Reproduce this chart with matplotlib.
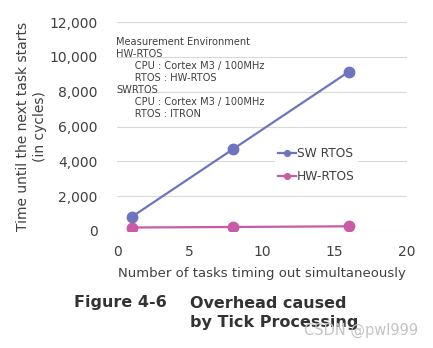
import matplotlib.pyplot as plt

# data
tasks = [1, 8, 16]
sw_rtos = [800, 4700, 9150]
hw_rtos = [200, 230, 270]
yticks = [0, 2000, 4000, 6000, 8000, 10000, 12000]
xticks = [0, 5, 10, 15, 20]

env_text = ("Measurement Environment\n"
            "HW-RTOS\n"
            "      CPU : Cortex M3 / 100MHz\n"
            "      RTOS : HW-RTOS\n"
            "SWRTOS\n"
            "      CPU : Cortex M3 / 100MHz\n"
            "      RTOS : ITRON")

plt.rcParams['font.family'] = ['DejaVu Sans']
txt = '#404040'

fig = plt.figure(figsize=(4.33, 3.48), dpi=100)
ax = fig.add_axes([117/433, 1 - 231/348, 290/433, 209/348])

ax.plot(tasks, sw_rtos, color='#6f74bf', lw=1.6, marker='o', ms=7.5, label='SW RTOS', zorder=3)
ax.plot(tasks, hw_rtos, color='#c95ba6', lw=1.6, marker='o', ms=7.5, label='HW-RTOS', zorder=3)

ax.set_xlim(0, 20)
ax.set_ylim(0, 12000)
ax.set_xticks(xticks)
ax.set_yticks(yticks)
ax.set_yticklabels([f"{v:,}" for v in yticks])
ax.grid(axis='y', color='#d9d9d9', lw=0.8)
ax.set_axisbelow(True)
for s in ax.spines.values():
    s.set_visible(False)
ax.tick_params(length=0, labelsize=10, colors=txt)
ax.tick_params(axis='y', pad=14)
ax.tick_params(axis='x', pad=10)

ax.set_ylabel("Time until the next task starts\n(in cycles)", fontsize=10, color=txt, labelpad=2)
ax.set_xlabel("Number of tasks timing out simultaneously", fontsize=9.5, color=txt, labelpad=6)

ax.text(-0.05, 11150, env_text, fontsize=7.1, color=txt, va='top', ha='left', linespacing=1.26)

leg = ax.legend(loc='center left', bbox_to_anchor=(0.544, 0.316), frameon=True, fontsize=8.8,
                handlelength=1.5, handletextpad=0.05, labelspacing=0.8, borderpad=0.25,
                markerscale=0.55, borderaxespad=0)
leg.get_frame().set_edgecolor('none')
leg.get_frame().set_facecolor('white')
leg.get_frame().set_alpha(1)
for t in leg.get_texts():
    t.set_color(txt)

fig.text(74/433, 1 - 303/348, "Figure 4-6", fontsize=11.5, fontweight='bold', color='#333333', va='center')
fig.text(190/433, 1 - 313/348, "Overhead caused\nby Tick Processing", fontsize=11.5,
         fontweight='bold', color='#333333', va='center', linespacing=1.3)
fig.text(418/433, 1 - 330/348, "CSDN @pwl999", fontsize=10.5, color='#c4c4c4', ha='right', va='center')

fig.savefig('out.png', dpi=100)
